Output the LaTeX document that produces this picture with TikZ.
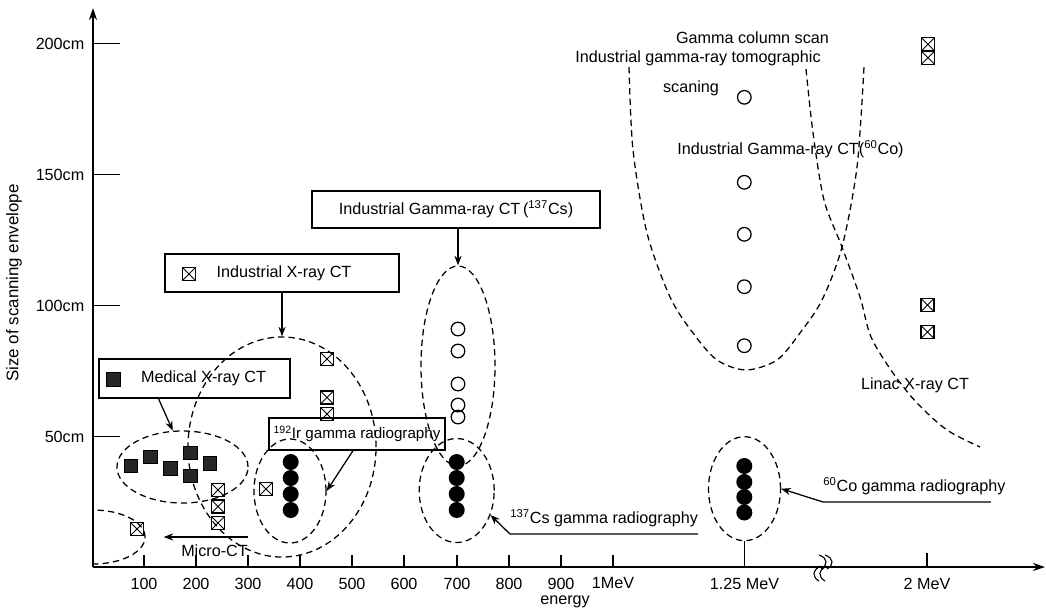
\documentclass[tikz,border=0pt]{standalone}
\usepackage{fontspec}
\setmainfont{Liberation Sans}
\usetikzlibrary{arrows.meta, positioning, shapes.geometric}

\begin{document}
\begin{tikzpicture}[
    x=0.025cm, y=-0.025cm,
    font=\fontsize{11.5}{13.5}\selectfont,
    labelbox/.style={draw, line width=0.9pt, minimum height=0.95cm, inner xsep=2pt},
    dashline/.style={line width=0.9pt, dash pattern=on 4.5pt off 3pt},
    zone/.style={dashline, ellipse, draw, inner sep=0pt},
    pointer/.style={line width=0.9pt, -{Stealth[length=2.4mm, width=1.8mm]}},
    axisline/.style={line width=1pt, -{Stealth[length=3mm, width=2mm]}},
    ticklab/.style={below=0.25cm, inner sep=0pt},
    cmlab/.style={left=0.2cm, inner sep=0pt},
    lead/.style={inner xsep=0pt, inner ysep=5pt, text depth=0.22em},
    medsq/.style={draw, fill=black!85, minimum size=0.34cm, inner sep=0pt},
    xsq/.style={draw, line width=0.9pt, minimum size=0.33cm, inner sep=0pt,
                path picture={\draw[line width=0.6pt]
                  (path picture bounding box.north west) -- (path picture bounding box.south east)
                  (path picture bounding box.south west) -- (path picture bounding box.north east);}},
    ocirc/.style={circle, draw, line width=0.9pt, minimum size=0.34cm, inner sep=0pt},
    fdot/.style={circle, fill=black, minimum size=0.4cm, inner sep=0pt}
  ]
  \useasboundingbox (0,0) rectangle (1046,614);

  % --- Ejes ---
  \coordinate (origin) at (93,567);
  \coordinate (xend)   at (1045,567);
  \coordinate (yend)   at (93,8);
  \draw[axisline] (origin) -- (xend);
  \draw[axisline] (origin) -- (yend);
  \node[rotate=90, font=\fontsize{12}{14}\selectfont] (ylab) at (14,283)
       {Size of scanning envelope};
  \node (xlab) at (565,602) {energy};

  \draw[line width=1pt] (120,43.5)  -- (93,43.5)  node[cmlab] (y200) {200cm};
  \draw[line width=1pt] (120,174.5) -- (93,174.5) node[cmlab] (y150) {150cm};
  \draw[line width=1pt] (120,305.5) -- (93,305.5) node[cmlab] (y100) {100cm};
  \draw[line width=1pt] (120,436.5) -- (93,436.5) node[cmlab] (y50)  {50cm};

  \draw[line width=1pt] (144,555) -- (144,567) node[ticklab] (x100) {100};
  \draw[line width=1pt] (196,555) -- (196,567) node[ticklab] (x200) {200};
  \draw[line width=1pt] (248,555) -- (248,567) node[ticklab] (x300) {300};
  \draw[line width=1pt] (300,555) -- (300,567) node[ticklab] (x400) {400};
  \draw[line width=1pt] (352,555) -- (352,567) node[ticklab] (x500) {500};
  \draw[line width=1pt] (404,555) -- (404,567) node[ticklab] (x600) {600};
  \draw[line width=1pt] (457,555) -- (457,567) node[ticklab] (x700) {700};
  \draw[line width=1pt] (509,555) -- (509,567) node[ticklab] (x800) {800};
  \draw[line width=1pt] (561,555) -- (561,567) node[ticklab] (x900) {900};
  \draw[line width=1pt] (613,555) -- (613,567) node[ticklab] (x1000) {1MeV};
  \draw[line width=1pt] (927,553) -- (927,567) node[ticklab] (x2000) {2 MeV};

  % --- Corte del eje ---
  \draw[line width=0.8pt] (819,555) .. controls (828,558) and (828,565) .. (821,569);
  \draw[line width=0.8pt] (825,555) .. controls (834,558) and (834,565) .. (827,569);
  \draw[line width=0.8pt] (821,566) .. controls (812,570) and (812,577) .. (819,581);
  \draw[line width=0.8pt] (827,566) .. controls (818,570) and (818,577) .. (825,581);

  % --- Zonas ---
  \node[zone, minimum width=3.275cm, minimum height=1.8cm] (medzone) at (182.5,467) {};
  \node[zone, minimum width=4.7cm, minimum height=5.5cm]   (indzone) at (282,447) {};
  \node[zone, minimum width=1.8cm, minimum height=2.6cm]   (irzone)  at (290,491) {};
  \node[zone, minimum width=1.85cm, minimum height=5cm]    (cszone)  at (458,366) {};
  \node[zone, minimum width=1.875cm, minimum height=2.6cm] (csrzone) at (456.7,490.5) {};
  \node[zone, minimum width=1.8cm, minimum height=2.6cm]   (cozone)  at (744.5,488.7) {};
  \begin{scope}
    \clip (93,480) rectangle (220,567);
    \node[zone, minimum width=2.6cm, minimum height=1.35cm] (microzone) at (93,537) {};
  \end{scope}
  \draw[line width=1pt] (cozone.south) -- (cozone.south |- origin)
        node[ticklab] (x1250) {1.25 MeV};

  \draw[dashline] plot[smooth] coordinates {(629,67) (633,150) (647,233) (670,297)
        (693,333) (717,360) (746,370) (777,360) (800,333) (822,300) (842,247)
        (857,167) (864,67)};
  \draw[dashline] plot[smooth] coordinates {(806,69) (813,133) (824,200) (842,247)
        (860,297) (871,337) (893,373) (917,403) (947,430) (980,447)};

  % --- Cajas ---
  \node[labelbox, minimum width=4.775cm, minimum height=0.975cm] (medbox) at (194.5,378.5)
       {\hspace*{0.45cm}Medical X-ray CT};
  \node[medsq] (medkey) at (113,379) {};
  \node[labelbox, minimum width=5.85cm] (indbox) at (282,273)
       {\hspace*{0.1cm}Industrial X-ray CT};
  \node[xsq] (indkey) at (189,274) {};
  \node[labelbox, minimum width=7.2cm, minimum height=0.925cm] (csbox) at (456,209.5)
       {Industrial Gamma-ray CT\,(\textsuperscript{137}Cs)};
  \node[labelbox, minimum width=4.4cm, minimum height=0.8cm, inner xsep=1pt,
        font=\fontsize{10.8}{13}\selectfont] (irbox) at (357,434)
       {\textsuperscript{192}Ir gamma radiography};

  % --- Textos sueltos ---
  \node (gcs)   at (752.5,38)  {Gamma column scan};
  \node (igt)   at (698,58)    {Industrial gamma-ray tomographic};
  \node (scn)   at (691,88)    {scaning};
  \node (coct)  at (790.5,149) {Industrial Gamma-ray CT(\textsuperscript{60}Co)};
  \node (linac) at (915,385)   {Linac X-ray CT};
  \node[lead, anchor=south west] (csrad) at (510,534)
       {\textsuperscript{137}Cs gamma radiography};
  \node[lead, anchor=south west] (corad) at (823,502)
       {\textsuperscript{60}Co gamma radiography};
  \node[lead, anchor=north east] (microtxt) at (248,537) {Micro-CT};

  % --- Marcas: Medical X-ray CT ---
  \node[medsq] (med1) at (130.7,465.7) {};
  \node[medsq] (med2) at (150.3,456.7) {};
  \node[medsq] (med3) at (170.3,468.3) {};
  \node[medsq] (med4) at (190,452.7) {};
  \node[medsq] (med5) at (190,475.7) {};
  \node[medsq] (med6) at (209.7,463.3) {};

  % --- Marcas: Industrial X-ray CT ---
  \node[xsq] (ind1)  at (218,490) {};
  \node[xsq] (ind2)  at (218,506.5) {};
  \node[xsq] (ind3)  at (218,523) {};
  \node[xsq] (ind4)  at (266,489) {};
  \node[xsq] (ind5)  at (137,529) {};
  \node[xsq] (ind6)  at (327,359) {};
  \node[xsq] (ind7)  at (327,397.5) {};
  \node[xsq] (ind8)  at (327,414) {};
  \node[xsq] (ind9)  at (927.5,305) {};
  \node[xsq] (ind10) at (927.5,332) {};
  \node[xsq] (ind11) at (928,44.3) {};
  \node[xsq] (ind12) at (928,57.7) {};

  % --- Marcas: gamma CT ---
  \node[ocirc] (cs1) at (458,329) {};
  \node[ocirc] (cs2) at (458,351) {};
  \node[ocirc] (cs3) at (458,384) {};
  \node[ocirc] (cs4) at (458,405) {};
  \node[ocirc] (cs5) at (458,417) {};
  \node[ocirc] (co1) at (744.3,97.3) {};
  \node[ocirc] (co2) at (744.3,182.3) {};
  \node[ocirc] (co3) at (744.3,234.3) {};
  \node[ocirc] (co4) at (744.3,286.7) {};
  \node[ocirc] (co5) at (744.3,345.7) {};

  % --- Marcas: radiografia gamma ---
  \node[fdot] (ir1) at (290.7,462) {};
  \node[fdot] (ir2) at (290.7,478) {};
  \node[fdot] (ir3) at (290.7,494) {};
  \node[fdot] (ir4) at (290.7,510) {};
  \node[fdot] (csr1) at (456.7,462) {};
  \node[fdot] (csr2) at (456.7,478) {};
  \node[fdot] (csr3) at (456.7,494) {};
  \node[fdot] (csr4) at (456.7,510) {};
  \node[fdot] (cor1) at (744.3,466) {};
  \node[fdot] (cor2) at (744.3,482) {};
  \node[fdot] (cor3) at (744.3,497) {};
  \node[fdot] (cor4) at (744.3,512.5) {};

  % --- Flechas ---
  \draw[pointer] ([xshift=-0.9cm]medbox.south) -- (medzone.105);
  \draw[pointer] (indzone.north |- indbox.south) -- (indzone.north);
  \draw[pointer] (cszone.north |- csbox.south) -- (cszone.north);
  \draw[pointer] ([xshift=-0.1cm]irbox.south) -- (irzone.east);
  \draw[pointer] (csrad.south east) -- (csrad.south west) -- (csrzone.-36);
  \draw[pointer] ([xshift=-0.375cm]corad.south east) -- (corad.south west)
        -- (cozone.east);
  \draw[pointer, shorten >=0.45cm] (microtxt.north east) -- (microzone.east);
\end{tikzpicture}
\end{document}
